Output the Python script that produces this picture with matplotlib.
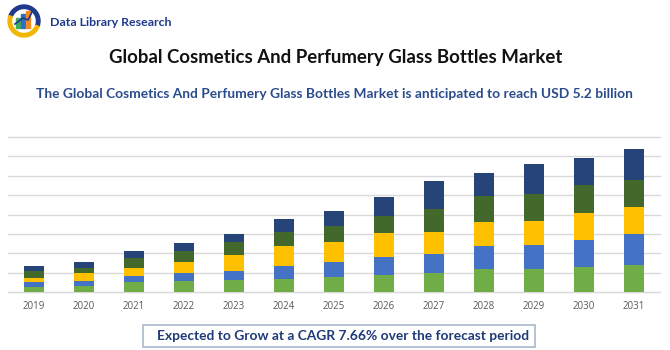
import numpy as np
import matplotlib
matplotlib.use('Agg')
import matplotlib.pyplot as plt
from matplotlib.patches import Wedge, Rectangle

plt.rcParams['font.family'] = ['Lato', 'DejaVu Sans']

years = ['2019', '2020', '2021', '2022', '2023', '2024', '2025',
         '2026', '2027', '2028', '2029', '2030', '2031']
# stacked segments, bottom to top (grid units)
seg_green = [0.26, 0.32, 0.51, 0.56, 0.65, 0.70, 0.80, 0.89, 0.99, 1.18, 1.21, 1.30, 1.40]
seg_blue = [0.29, 0.26, 0.34, 0.41, 0.43, 0.67, 0.77, 0.94, 0.99, 1.18, 1.20, 1.38, 1.59]
seg_yellow = [0.21, 0.39, 0.41, 0.59, 0.82, 1.01, 1.01, 1.22, 1.11, 1.23, 1.25, 1.42, 1.42]
seg_dkgreen = [0.31, 0.29, 0.51, 0.56, 0.67, 0.72, 0.81, 0.89, 1.19, 1.36, 1.38, 1.40, 1.36]
seg_navy = [0.29, 0.28, 0.33, 0.43, 0.43, 0.65, 0.78, 0.96, 1.42, 1.18, 1.55, 1.42, 1.59]

series = [seg_green, seg_blue, seg_yellow, seg_dkgreen, seg_navy]
colors = ['#70AD47', '#4472C4', '#FFC000', '#43682B', '#264478']

title = 'Global Cosmetics And Perfumery Glass Bottles Market'
subtitle = ('The Global Cosmetics And Perfumery Glass Bottles Market is '
            'anticipated to reach USD 5.2 billion')
footer = 'Expected to Grow at a CAGR 7.66% over the forecast period'

W, H = 670, 350
fig = plt.figure(figsize=(W / 100, H / 100), dpi=100)

# chart area
ax = fig.add_axes([8 / W, 1 - 292.3 / H, 652 / W, 155.6 / H])
x = np.arange(len(years))
bottom = np.zeros(len(years))
for vals, c in zip(series, colors):
    ax.bar(x, vals, bottom=bottom, width=0.4, color=c, zorder=3)
    bottom += np.array(vals)
ax.set_xlim(-0.52, len(years) - 0.48)
ax.set_ylim(0, 8)
ax.set_yticks(np.arange(0, 9))
ax.yaxis.grid(True, color='#D9D9D9', lw=1, zorder=0)
ax.tick_params(axis='y', left=False, labelleft=False)
ax.tick_params(axis='x', length=0, pad=6, labelsize=7, labelcolor='#595959')
ax.set_xticks(x)
ax.set_xticklabels(years, family=['Open Sans', 'DejaVu Sans'])
for s in ['top', 'right', 'left']:
    ax.spines[s].set_visible(False)
ax.spines['bottom'].set_color('#D9D9D9')
ax.set_axisbelow(True)
for l in ax.yaxis.get_gridlines():
    l.set_clip_on(False)

# titles
fig.text(336 / W, 1 - 57 / H, title, ha='center', va='center',
         fontsize=13.4, fontweight='bold', color='#111111')
fig.text(334 / W, 1 - 94 / H, subtitle, ha='center', va='center',
         fontsize=9.9, fontweight='bold', color='#2B4C8C')

# footer box
fig.patches.append(Rectangle((143 / W, 1 - 347 / H), 392 / W, 22 / H,
                             transform=fig.transFigure, fill=False,
                             edgecolor='#A9B8CC', lw=1.2))
fig.text(343 / W, 1 - 335.5 / H, footer, ha='center', va='center',
         fontsize=9.9, fontweight='bold', color='#1F3A78')

# logo
lax = fig.add_axes([0, 1 - 45 / H, 60 / W, 45 / H])
lax.set_xlim(0, 60)
lax.set_ylim(45, 0)
lax.set_aspect('equal')
lax.axis('off')
lax.add_patch(Wedge((24, 21), 16, 200, 20, width=3.5, color='#1F3A8C'))
lax.add_patch(Wedge((24, 21), 16, 20, 200, width=3.5, color='#F2B705'))
for bx, bh, bc in [(16, 10, '#3DAA5C'), (21, 14, '#2F6FBF'), (26, 17, '#F08A24')]:
    lax.add_patch(Rectangle((bx, 28 - bh), 4, bh, color=bc))
lax.plot([15, 23, 28, 33], [24, 18, 20, 10], color='#1F3A8C', lw=1.2)
fig.text(50 / W, 1 - 22 / H, 'Data Library Research', ha='left', va='center',
         fontsize=8.9, fontweight='bold', color='#1F3A8C')

fig.savefig('out.png', dpi=100)
